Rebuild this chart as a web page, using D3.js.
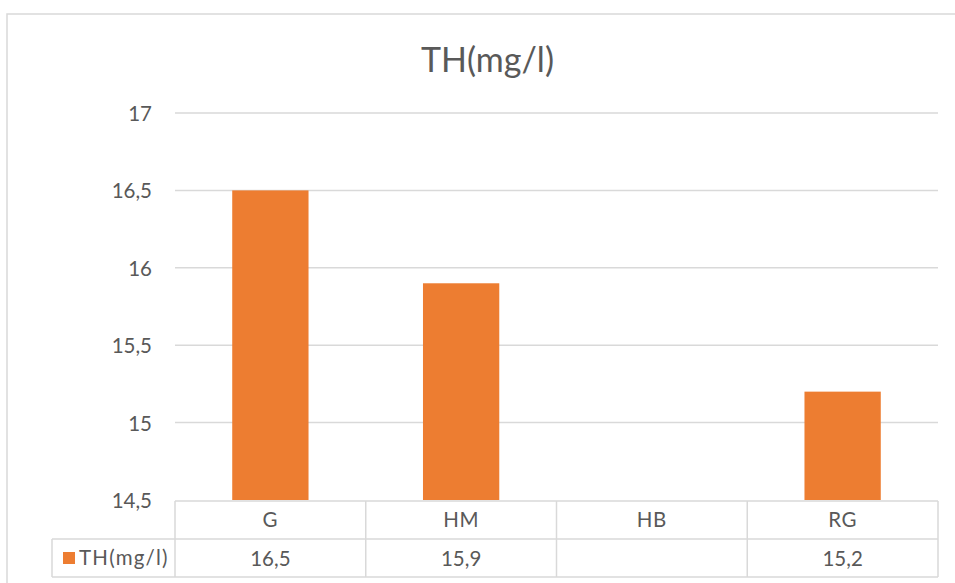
<!DOCTYPE html>
<html>
<head>
<meta charset="utf-8">
<script src="https://cdn.jsdelivr.net/npm/d3@7"></script>
<style>
  html, body { margin: 0; padding: 0; background: #fff; }
  svg { display: block; }
  text { font-family: Lato, "Open Sans", "Liberation Sans", sans-serif; fill: #595959; }
</style>
</head>
<body>
<svg id="chart" width="955" height="583"></svg>
<script>
// ---- data ----
const title = "TH(mg/l)";
const seriesName = "TH(mg/l)";
const categories = ["G", "HM", "HB", "RG"];
const values = [16.5, 15.9, null, 15.2];
const yTicks = [14.5, 15, 15.5, 16, 16.5, 17];

// ---- layout ----
const W = 955, H = 583;
const plot = { left: 175, right: 938, top: 113, bottom: 500 };
const tableRow1Bottom = 539, tableRow2Bottom = 577, legendLeft = 52;
const barColor = "#ED7D31";
const gridColor = "#d9d9d9";

const locale = d3.formatLocale({ decimal: ",", thousands: ".", grouping: [3], currency: ["", ""] });
const fmt = v => locale.format("~g")(v);

const svg = d3.select("#chart");

// chart frame
svg.append("rect")
  .attr("x", 7).attr("y", 14)
  .attr("width", 970).attr("height", 600)
  .attr("fill", "#fff")
  .attr("stroke", gridColor).attr("stroke-width", 1.5);

// title
svg.append("text")
  .attr("x", 487.5).attr("y", 72)
  .attr("text-anchor", "middle")
  .style("font-size", "34px")
  .text(title);

const x = d3.scaleBand()
  .domain(categories)
  .range([plot.left, plot.right])
  .paddingInner(0.6)
  .paddingOuter(0.3);

const y = d3.scaleLinear()
  .domain([yTicks[0], yTicks[yTicks.length - 1]])
  .range([plot.bottom, plot.top]);

// gridlines
svg.append("g").selectAll("line")
  .data(yTicks.filter(t => t > yTicks[0]))
  .join("line")
  .attr("x1", plot.left).attr("x2", plot.right)
  .attr("y1", d => y(d)).attr("y2", d => y(d))
  .attr("stroke", gridColor).attr("stroke-width", 1.5);

// y axis labels
const yAxis = d3.axisLeft(y).tickValues(yTicks).tickFormat(fmt).tickSize(0).tickPadding(0);
const yg = svg.append("g").attr("transform", `translate(${plot.left - 23},0)`).call(yAxis);
yg.select(".domain").remove();
yg.selectAll("text")
  .attr("dy", null)
  .attr("y", 7.5)
  .style("font-size", "20.5px")
  .style("font-family", 'Lato, "Open Sans", sans-serif')
  .attr("fill", "#595959");

// bars
svg.append("g").selectAll("rect")
  .data(categories.map((c, i) => ({ c, v: values[i] })).filter(d => d.v != null))
  .join("rect")
  .attr("x", d => x(d.c))
  .attr("width", x.bandwidth())
  .attr("y", d => y(d.v))
  .attr("height", d => y(yTicks[0]) - y(d.v))
  .attr("fill", barColor);

// data table
const tg = svg.append("g").attr("stroke", gridColor).attr("stroke-width", 1.5).attr("fill", "none");
const tableTop = plot.bottom + 1;
tg.append("line").attr("x1", plot.left).attr("x2", plot.right).attr("y1", tableTop).attr("y2", tableTop);
tg.append("line").attr("x1", legendLeft).attr("x2", plot.right).attr("y1", tableRow1Bottom).attr("y2", tableRow1Bottom);
tg.append("line").attr("x1", legendLeft).attr("x2", plot.right).attr("y1", tableRow2Bottom).attr("y2", tableRow2Bottom);
const step = x.step();
const bounds = [plot.left].concat(categories.map(c => x(c) - (step - x.bandwidth()) / 2 + step));
tg.selectAll("line.v").data(bounds).join("line").attr("class", "v")
  .attr("x1", d => d).attr("x2", d => d)
  .attr("y1", tableTop).attr("y2", tableRow2Bottom);
tg.append("line").attr("x1", legendLeft).attr("x2", legendLeft).attr("y1", tableRow1Bottom).attr("y2", tableRow2Bottom);

// category labels
svg.append("g").selectAll("text")
  .data(categories)
  .join("text")
  .attr("x", d => x(d) + x.bandwidth() / 2)
  .attr("y", 527)
  .attr("text-anchor", "middle")
  .style("font-size", "20.5px")
  .style("letter-spacing", "0.6px")
  .text(d => d);

// value cells
svg.append("g").selectAll("text")
  .data(categories.map((c, i) => ({ c, v: values[i] })).filter(d => d.v != null))
  .join("text")
  .attr("x", d => x(d.c) + x.bandwidth() / 2)
  .attr("y", 566)
  .attr("text-anchor", "middle")
  .style("font-size", "20.5px")
  .text(d => fmt(d.v));

// legend key in table
svg.append("rect")
  .attr("x", 63).attr("y", 552).attr("width", 12).attr("height", 12)
  .attr("fill", barColor);
svg.append("text")
  .attr("x", 79).attr("y", 565)
  .style("font-size", "20.5px")
  .style("letter-spacing", "1.2px")
  .text(seriesName);
</script>
</body>
</html>
